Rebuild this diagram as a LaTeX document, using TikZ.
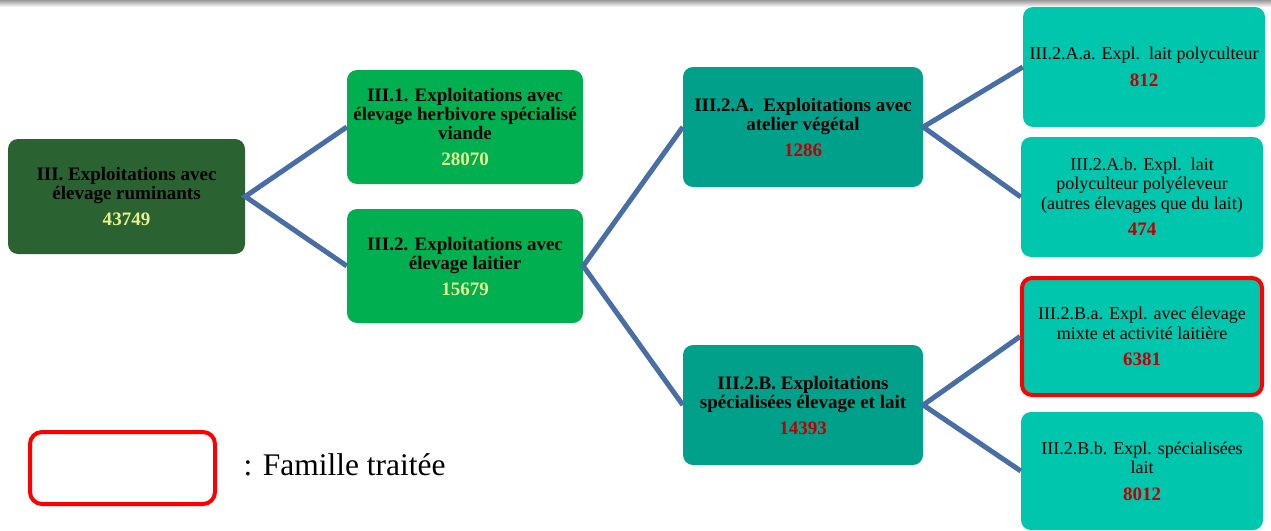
\documentclass[tikz,border=0pt]{standalone}
\usepackage{fontspec}
\setmainfont{Liberation Serif}

\definecolor{rootgreen}{RGB}{42,99,49}
\definecolor{midgreen}{RGB}{0,176,80}
\definecolor{tealdark}{RGB}{0,160,139}
\definecolor{teallight}{RGB}{0,198,174}
\definecolor{numyellow}{RGB}{230,240,140}
\definecolor{numred}{RGB}{192,0,0}
\definecolor{linkblue}{RGB}{72,110,165}

\tikzset{
  famille/.style={rounded corners=10pt, align=center, inner sep=2pt},
  bigbox/.style={famille, font=\fontsize{19}{19}\selectfont\bfseries},
  leafbox/.style={famille, fill=teallight, minimum width=242pt, minimum height=120pt,
    font=\fontsize{18}{19.5}\selectfont},
  link/.style={draw=linkblue, line width=5pt, line join=miter}
}

\newcommand{\nbjaune}[1]{\textcolor{numyellow}{#1}}
\newcommand{\nbrouge}[1]{\textbf{\fontsize{19}{19}\selectfont\textcolor{numred}{#1}}}

\begin{document}
\begin{tikzpicture}[x=1pt,y=-1pt]
\useasboundingbox (0,0) rectangle (1271,530);
\shade[top color=black!40, bottom color=white] (0,0) rectangle (1271,7);

\begin{scope}
\node[bigbox, fill=rootgreen, minimum width=237pt, minimum height=115pt] (racine) at (126.5,196.5)
  {III. Exploitations avec\\élevage ruminants\\[7pt]\nbjaune{43749}};

\node[bigbox, fill=midgreen, minimum width=236pt, minimum height=114pt] (viande) at (465,127)
  {III.1. Exploitations avec\\élevage herbivore spécialisé\\viande\\[7pt]\nbjaune{28070}};
\node[bigbox, fill=midgreen, minimum width=236pt, minimum height=114pt] (laitier) at (465,266)
  {III.2. Exploitations avec\\élevage laitier\\[7pt]\nbjaune{15679}};

\node[bigbox, fill=tealdark, minimum width=240pt, minimum height=120pt] (vegetal) at (803,127)
  {III.2.A.\ \ Exploitations avec\\atelier végétal\\[7pt]\textcolor{numred}{1286}};
\node[bigbox, fill=tealdark, minimum width=240pt, minimum height=120pt] (specialise) at (803,405)
  {III.2.B. Exploitations\\spécialisées élevage et lait\\[7pt]\textcolor{numred}{14393}};

\node[leafbox] (polyculteur) at (1144,67)
  {III.2.A.a. Expl.\ \ lait polyculteur\\[7pt]\nbrouge{812}};
\node[leafbox] (polyeleveur) at (1142,197)
  {III.2.A.b. Expl.\ \ lait\\polyculteur polyéleveur\\(autres élevages que du lait)\\[7pt]\nbrouge{474}};
\node[leafbox, draw=red, line width=4pt, minimum width=240pt, minimum height=117pt] (mixte) at (1142,336.5)
  {III.2.B.a. Expl. avec élevage\\mixte et activité laitière\\[7pt]\nbrouge{6381}};
\node[leafbox, minimum height=118pt] (lait) at (1142,471)
  {III.2.B.b. Expl. spécialisées\\lait\\[7pt]\nbrouge{8012}};
\end{scope}

\draw[link] (viande.west) -- (racine.east) -- (laitier.west);
\draw[link] (vegetal.west) -- (laitier.east) -- (specialise.west);
\draw[link] (polyculteur.west) -- (vegetal.east) -- (polyeleveur.west);
\draw[link] (mixte.west) -- (specialise.east) -- (lait.west);

\node[draw=red, line width=4pt, rounded corners=12pt, minimum width=185pt, minimum height=72pt] (legende) at (122.5,468) {};
\node[anchor=west, font=\fontsize{31.5}{31.5}\selectfont] (traitee) at (240,465) {: Famille traitée};

\end{tikzpicture}
\end{document}
